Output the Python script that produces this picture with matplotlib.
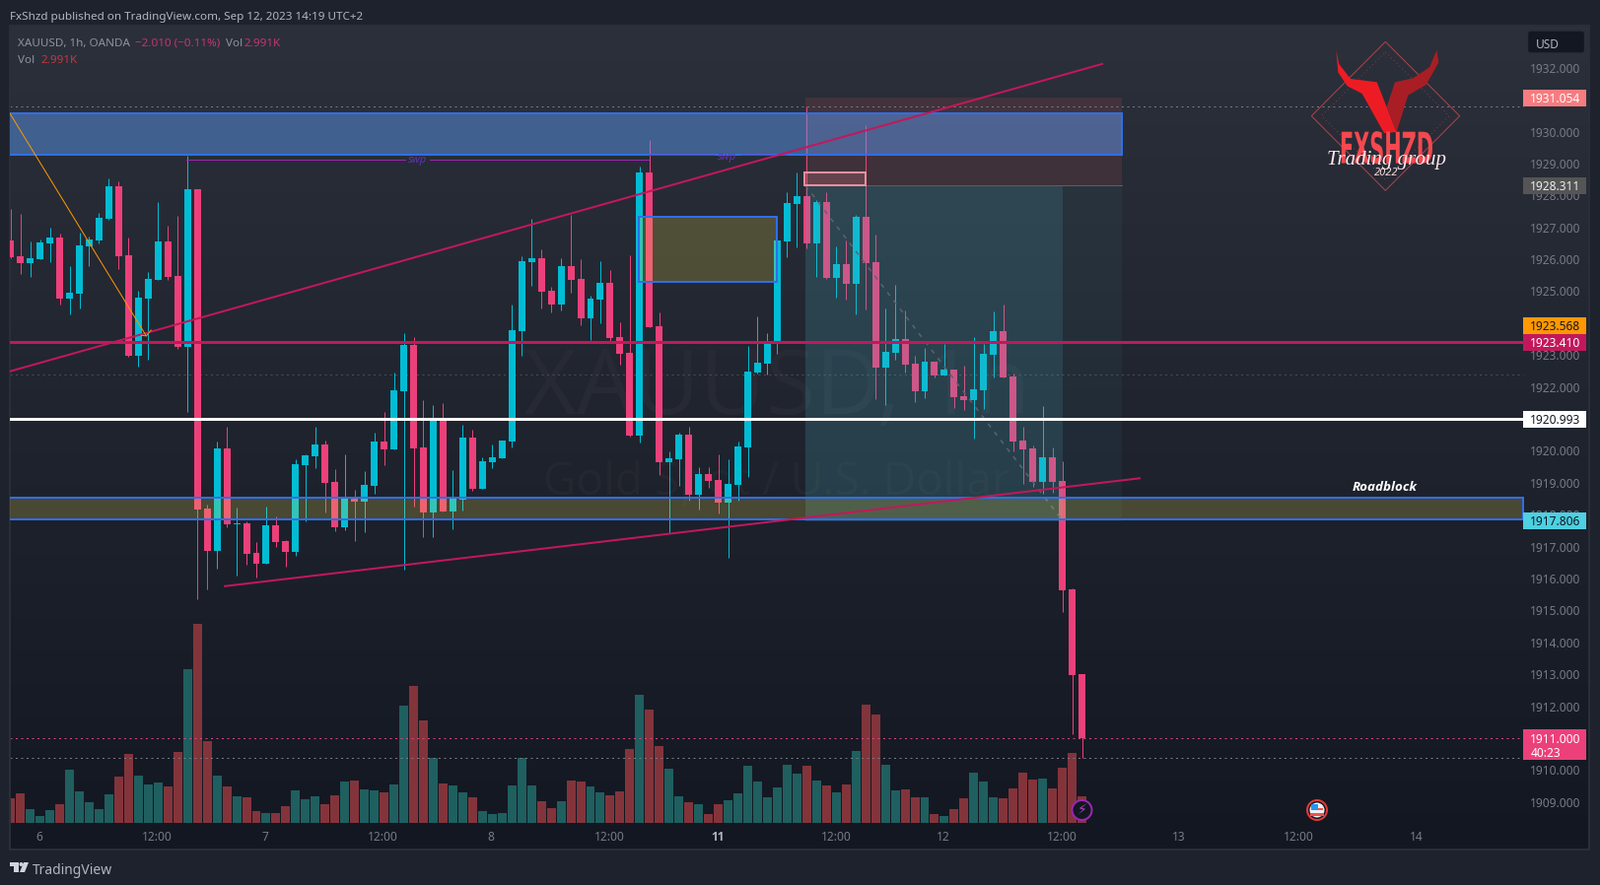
import numpy as np
import matplotlib
matplotlib.use("Agg")
import matplotlib.pyplot as plt
from matplotlib.colors import LinearSegmentedColormap
from matplotlib.patches import Rectangle, Polygon, Circle, FancyBboxPatch
from matplotlib.transforms import Affine2D, blended_transform_factory
from matplotlib.patheffects import AbstractPathEffect

plt.rcParams["font.family"] = ["Noto Sans", "DejaVu Sans"]

opens = [
1926.59,1926.09,1925.88,1926.00,1926.50,1926.68,1924.77,1924.92,1926.40,1926.59,
1927.27,1928.29,1926.12,1922.98,1924.77,1925.35,1926.56,1925.48,1923.25,1928.19,
1918.19,1916.86,1920.08,1917.70,1917.73,1916.80,1916.46,1917.67,1917.17,1916.83,
1919.55,1919.83,1920.20,1919.03,1917.61,1918.52,1918.40,1918.90,1920.29,1920.05,
1921.87,1923.32,1920.11,1918.07,1920.94,1918.10,1918.47,1920.41,1918.81,1919.64,
1919.77,1920.29,1923.75,1925.91,1926.03,1925.01,1924.58,1925.79,1925.38,1924.15,
1924.74,1925.26,1923.56,1923.07,1920.48,1928.72,1923.90,1919.64,1919.74,1920.51,
1918.62,1919.27,1919.09,1918.38,1918.93,1920.11,1922.45,1922.73,1923.35,1926.56,
1927.73,1927.98,1926.50,1927.79,1925.42,1925.85,1925.23,1927.33,1925.91,1922.61,
1923.07,1923.50,1922.73,1921.87,1922.79,1922.36,1922.54,1921.71,1921.59,1921.90,
1923.01,1923.75,1922.33,1920.32,1920.08,1919.02,1919.80,1919.05,1915.66,1913.00]
highs = [
1927.58,1927.42,1926.56,1926.62,1926.99,1926.80,1925.79,1926.83,1926.71,1927.45,
1928.53,1928.44,1926.68,1925.01,1925.60,1927.79,1927.05,1927.36,1929.24,1928.19,
1918.32,1920.29,1920.75,1918.22,1917.79,1917.14,1918.25,1917.95,1917.20,1919.74,
1919.89,1920.75,1920.32,1919.43,1919.89,1918.78,1919.37,1920.57,1921.22,1922.45,
1923.69,1923.56,1921.59,1921.43,1921.49,1919.40,1920.82,1920.66,1919.80,1920.20,
1920.32,1924.58,1926.09,1927.27,1926.31,1925.14,1926.03,1927.39,1926.00,1924.86,
1925.94,1925.66,1924.03,1926.12,1928.90,1929.74,1924.34,1919.98,1920.57,1920.75,
1919.49,1919.49,1919.89,1919.74,1920.29,1923.28,1924.21,1923.69,1926.59,1928.10,
1928.72,1930.79,1927.85,1928.10,1926.40,1926.59,1927.39,1930.20,1926.77,1924.46,
1925.20,1924.40,1922.98,1923.22,1922.79,1923.35,1922.54,1922.67,1923.56,1923.35,
1924.37,1924.58,1922.42,1920.75,1920.17,1921.40,1920.10,1919.67,1915.69,1913.00]
lows = [
1926.03,1925.54,1925.45,1926.00,1925.91,1924.58,1924.27,1924.46,1925.79,1926.50,
1927.24,1925.69,1922.94,1922.64,1922.85,1925.35,1925.35,1923.19,1921.22,1915.35,
1915.66,1916.31,1917.61,1916.09,1916.43,1916.03,1916.46,1916.99,1916.37,1916.71,
1917.79,1919.46,1918.07,1917.48,1917.51,1917.17,1917.45,1918.66,1919.55,1920.05,
1916.28,1918.25,1917.30,1917.30,1918.10,1917.54,1918.13,1918.75,1918.81,1919.46,
1919.77,1920.11,1922.98,1925.17,1924.46,1924.34,1924.40,1924.95,1923.93,1923.47,
1924.00,1923.44,1922.70,1920.45,1920.26,1923.87,1919.24,1917.42,1918.90,1918.44,
1918.16,1918.84,1918.04,1916.65,1918.44,1919.18,1922.42,1922.39,1923.04,1926.06,
1926.37,1926.34,1925.45,1925.38,1924.80,1924.74,1924.27,1924.43,1921.62,1921.43,
1922.85,1922.45,1921.53,1921.65,1922.30,1922.36,1921.34,1921.28,1920.38,1921.31,
1922.30,1922.30,1919.98,1918.96,1918.87,1918.66,1918.69,1914.95,1911.12,1910.38]
closes = [
1926.06,1925.88,1926.03,1926.53,1926.68,1924.77,1924.95,1926.43,1926.62,1927.30,
1928.29,1926.09,1922.98,1924.80,1925.38,1926.56,1925.45,1923.25,1928.19,1918.16,
1916.86,1920.08,1917.70,1917.73,1916.77,1916.46,1917.67,1917.14,1916.83,1919.58,
1919.86,1920.20,1919.00,1917.61,1918.52,1918.40,1918.93,1920.29,1920.05,1921.90,
1923.32,1920.08,1918.07,1920.94,1918.10,1918.50,1920.41,1918.81,1919.67,1919.80,
1920.32,1923.78,1925.94,1926.03,1924.98,1924.58,1925.79,1925.35,1924.15,1924.77,
1925.26,1923.53,1923.04,1920.48,1928.72,1923.87,1919.64,1919.77,1920.51,1918.62,
1919.27,1919.06,1918.38,1918.96,1920.14,1922.48,1922.76,1923.35,1926.59,1927.76,
1927.98,1926.50,1927.79,1925.42,1925.85,1925.23,1927.33,1925.88,1922.61,1923.10,
1923.50,1922.70,1921.87,1922.79,1922.36,1922.54,1921.68,1921.59,1921.93,1923.04,
1923.75,1922.30,1920.29,1920.05,1919.02,1919.80,1919.02,1915.63,1912.97,1911.00]
volumes_k = [
2.77,3.32,1.55,0.78,1.44,2.11,5.98,3.55,2.33,1.55,
3.21,5.21,7.76,5.32,4.32,4.54,4.10,7.98,17.28,22.38,
9.20,5.32,4.10,2.99,2.88,1.33,1.11,1.11,1.88,3.66,
2.66,2.99,2.11,3.10,4.65,4.76,3.77,3.66,3.43,4.32,
13.18,15.40,11.52,7.31,4.43,4.21,3.43,2.88,1.33,1.00,
1.11,4.21,7.31,4.21,2.44,1.66,2.44,4.76,4.65,4.10,
3.43,3.10,3.55,8.31,14.40,12.74,8.64,6.09,2.99,2.33,
2.11,1.00,2.11,2.55,3.32,6.43,4.65,2.88,3.99,6.54,
5.54,6.43,4.76,4.21,3.43,4.32,8.09,13.29,12.19,6.54,
3.66,3.77,2.88,2.88,1.00,0.78,1.55,2.77,5.65,4.65,
2.88,2.77,3.88,5.65,4.87,4.99,3.88,6.20,7.87,2.99]

price_ticks = list(range(1909, 1933))
time_tick_pos = [1.9, 13.94, 24.87, 36.9, 47.87, 59.9, 70.9, 83, 93.9, 106, 117.9, 130, 142]
time_tick_lab = ["6", "12:00", "7", "12:00", "8", "12:00", "11", "12:00", "12", "12:00", "13", "12:00", "14"]

UP, DOWN = "#00bcd4", "#ec407a"
VUP, VDOWN = "#1f5f5f", "#83343b"
PINK = "#c2185b"
BLUE = "#2f6fe8"
W, H = 1623, 898
px = 0.72  # one pixel in points
FS = 8.6

fig = plt.figure(figsize=(W / 100, H / 100), dpi=100, facecolor="#1e222d")
rect = [10 / W, (H - 862) / H, 1602 / W, 836 / H]
ax = fig.add_axes(rect)
ax2 = ax.twinx()
ax.set_zorder(2)
ax2.set_zorder(1)
ax.patch.set_visible(False)

# background gradient and volume
cmap = LinearSegmentedColormap.from_list("bg", ["#131722", "#2c303b"])
ax2.imshow(np.linspace(1, 0, 256).reshape(-1, 1), aspect="auto", cmap=cmap,
           extent=[0, 1, 0, 1], transform=ax2.transAxes, zorder=0)

x = np.arange(len(opens)) - 1
o, h, l, c = map(np.array, (opens, highs, lows, closes))
up = c >= o
ax2.bar(x, volumes_k, width=0.9, color=[VUP if u else VDOWN for u in up], zorder=1)

ax.set_xlim(-1.073, 159.6)
ax.set_ylim(1907.51, 1933.32)
ax2.set_ylim(-2.99, 89.64)
ax2.set_yticks([])
for a in (ax, ax2):
    for s in a.spines.values():
        s.set_color("#2a2e39")
        s.set_linewidth(2 * px)

# watermark
ax.text(77.0, 1921.9, "XAUUSD, 1h", ha="center", va="center", fontsize=66, color="#272a35",
        family="Open Sans", zorder=1)
ax.text(76.9, 1919.0, "Gold Spot / U.S. Dollar", ha="center", va="center", fontsize=33, color="#24272f",
        family="Open Sans", zorder=1)

# candles
ax.vlines(x, l, h, colors=[UP if u else DOWN for u in up], linewidth=1 * px, zorder=3)
ax.bar(x, np.abs(c - o), bottom=np.minimum(o, c), width=0.7,
       color=[UP if u else DOWN for u in up], zorder=3)

# position tool
ax.add_patch(Rectangle((79.87, 1928.311), 32.23, 2.743, fc="#e65a50", alpha=0.13, ec="none", zorder=4))
ax.add_patch(Rectangle((79.87, 1917.806), 32.23, 10.505, fc="#50b9c8", alpha=0.06, ec="none", zorder=4))
ax.add_patch(Rectangle((79.87, 1917.806), 26.13, 10.505, fc="#50b9c8", alpha=0.15, ec="none", zorder=4))
ax.plot([79.87, 112.1], [1928.311, 1928.311], color="#5f5f5a", lw=1 * px, zorder=4)
ax.plot([79.87, 105.9], [1928.311, 1917.86], color="#5f626c", lw=1.5 * px, ls=(0, (3, 4)), zorder=4)
ax.add_patch(Rectangle((79.8, 1928.32), 6.16, 0.40, fc="#f48fa0", alpha=0.2, ec="none", zorder=5))
ax.add_patch(Rectangle((79.8, 1928.32), 6.16, 0.40, fc="none", ec="#f48fa0", lw=2 * px, zorder=5))

# zones
ax.add_patch(Rectangle((-3, 1929.27), 115.1, 1.30, fc="#5fa0fc", alpha=0.45, ec="none", zorder=5))
ax.add_patch(Rectangle((-3, 1929.27), 115.1, 1.30, fc="none", ec=BLUE, lw=2 * px, zorder=5))
ax.add_patch(Rectangle((-3, 1917.86), 155.9, 0.67, fc="#fae84b", alpha=0.2, ec="none", zorder=5))
ax.add_patch(Rectangle((-3, 1917.86), 155.9, 0.67, fc="none", ec=BLUE, lw=2 * px, zorder=5))
ax.add_patch(Rectangle((62.9, 1925.29), 14.1, 2.04, fc="#fae84b", alpha=0.2, ec="none", zorder=5))
ax.add_patch(Rectangle((62.9, 1925.29), 14.1, 2.04, fc="none", ec=BLUE, lw=2 * px, zorder=5))

# lines
ax.plot([-1.07, 110.06], [1922.49, 1932.12], color=PINK, lw=2 * px, zorder=6)
ax.plot([20.8, 113.87], [1915.76, 1919.14], color=PINK, lw=2 * px, zorder=6)
ax.plot([-1.07, 12.8], [1930.57, 1923.60], color="#ff9800", lw=1 * px, zorder=6)
ax.plot([12.3, 12.8, 13.3], [1923.62, 1923.60, 1923.78], color="#ff9800", lw=1 * px, zorder=6)
ax.hlines(1923.40, -3, 152.9, color=PINK, lw=3 * px, zorder=6)
ax.hlines(1920.993, -3, 152.9, color="#ffffff", lw=3 * px, zorder=6)
for price, col in [(1930.78, "#787b86"), (1922.38, "#4a4d56"), (1911.0, "#d8477f"), (1910.38, "#787b86")]:
    ax.plot([-1.07, 152.9], [price, price], color=col, lw=1 * px, ls=(0, (2, 3.5)), zorder=2.5)
ax.plot([16.9, 39.1], [1929.11, 1929.11], color="#9c27b0", lw=1 * px, zorder=6)
ax.plot([41.7, 63.9], [1929.11, 1929.11], color="#9c27b0", lw=1 * px, zorder=6)
ax.plot([63.9, 70.6], [1929.27, 1929.27], color="#9c27b0", lw=1 * px, zorder=6)
ax.plot([73.2, 78.0], [1929.27, 1929.27], color="#9c27b0", lw=1 * px, zorder=6)
ax.text(40.4, 1929.10, "swp", color="#5e35b1", style="italic", fontsize=8, ha="center", va="center", zorder=6)
ax.text(71.9, 1929.20, "swp", color="#5e35b1", style="italic", fontsize=8, ha="center", va="center", zorder=6)
ax.text(138.85, 1918.87, "Roadblock", color="#ffffff", style="italic", weight="bold", fontsize=9.6,
        family="Open Sans", ha="center", va="center", zorder=6)

# axes ticks
ax.set_axisbelow(True)
ax.yaxis.tick_right()
ax.set_yticks(price_ticks)
ax.set_yticklabels([f"{v:.3f}" for v in price_ticks])
ax.tick_params(axis="y", length=0, pad=-9 * px, labelcolor="#787b86", labelsize=FS)
for t in ax.yaxis.get_major_ticks():
    t.label2.set_ha("right")
ax.set_xticks(time_tick_pos)
ax.set_xticklabels(time_tick_lab)
ax.tick_params(axis="x", length=0, pad=-19 * px, labelcolor="#787b86", labelsize=FS)
lab11 = ax.get_xticklabels()[time_tick_lab.index("11")]
lab11.set_family("Open Sans")
lab11.set_fontweight("bold")
lab11.set_color("#b2b5be")

# price labels
ytrans = blended_transform_factory(ax.transAxes, ax.transData)
x0, x1 = (1545 - 10) / 1602, (1609 - 10) / 1602
xt = (1603 - 10) / 1602
for center, text, bgc, txt in [
    (1931.06, "1931.054", "#f77c80", "#ffffff"),
    (1928.31, "1928.311", "#555555", "#eeeeee"),
    (1923.92, "1923.568", "#ff9800", "#131722"),
    (1923.40, "1923.410", PINK, "#ffffff"),
    (1920.99, "1920.993", "#ffffff", "#131722"),
    (1917.81, "1917.806", "#4dd0e1", "#131722"),
]:
    ax.add_patch(Rectangle((x0, center - 0.262), x1 - x0, 0.524, transform=ytrans, fc=bgc, ec="none", zorder=7))
    ax.text(xt, center, text, transform=ytrans, color=txt, fontsize=FS, ha="right", va="center_baseline", zorder=8)
ax.add_patch(Rectangle((x0, 1910.33), x1 - x0, 0.95, transform=ytrans, fc=DOWN, ec="none", zorder=7))
ax.text(xt, 1911.0, "1911.000", transform=ytrans, color="#ffffff", fontsize=FS, ha="right", va="center_baseline", zorder=8)
ax.text((1553 - 10) / 1602, 1910.57, "40:23", transform=ytrans, color="#ffffff", fontsize=FS, ha="left", va="center_baseline", zorder=8)

# figure-level decoration in pixel coordinates
PX = Affine2D().scale(1, -1).translate(0, H)


def ftext(xp, yp, s, **kw):
    kw.setdefault("va", "center_baseline")
    kw.setdefault("fontsize", 8.4)
    return fig.text(xp, yp, s, transform=PX, zorder=20, **kw)


def fpatch(p):
    p.set_transform(PX)
    p.set_zorder(20)
    fig.add_artist(p)
    return p


def z9(pts):
    return [(1300 + a / 3, b / 3) for a, b in pts]


ftext(10, 16, "FxShzd published on TradingView.com, Sep 12, 2023 14:19 UTC+2", color="#b2b5be")
ftext(18, 43, "XAUUSD, 1h, OANDA", color="#8f929b")
ftext(137, 43, "\u22122.010 (\u22120.11%)", color="#c2366f")
ftext(229, 43, "Vol", color="#8f929b")
ftext(247, 43, "2.991K", color="#c2366f")
ftext(18, 60, "Vol", color="#8f929b")
ftext(41, 60, "2.991K", color="#c0393f")
ftext(33, 881.5, "TradingView", color="#b2b5be", fontsize=10)
fpatch(Polygon([(10, 875), (19, 875), (19, 885), (14, 885), (14, 879), (10, 879)], fc="#d1d4dc", ec="none"))
fpatch(Circle((21.5, 877), 2, fc="#d1d4dc", ec="none"))
fpatch(Polygon([(24, 875), (29, 875), (25, 885), (20, 885)], fc="#d1d4dc", ec="none"))

fpatch(FancyBboxPatch((1549.5, 31), 58, 23, boxstyle="round,pad=0,rounding_size=3", fc="#131722", ec="#2a2e39", lw=1.5 * px))
ftext(1558, 44, "USD", color="#b2b5be", fontsize=FS)

# logo
fpatch(Polygon(z9([(316, 127), (542, 353), (316, 580), (91, 353)]), closed=True, fc="none", ec="#a8454c", lw=1 * px))
fpatch(Polygon(z9([(316, 158), (510, 353), (316, 548), (122, 353)]), closed=True, fc="none", ec="#7d3c44", lw=1 * px, ls=(0, (1, 3))))
fpatch(Polygon(z9([(166, 152), (175, 195), (210, 240), (290, 250), (350, 402), (312, 405), (245, 285),
                   (200, 262), (172, 220)]), closed=True, fc="#ed1c24", ec="none"))
fpatch(Polygon(z9([(472, 153), (478, 190), (440, 258), (385, 290), (350, 402), (320, 325), (345, 250),
                   (400, 238), (450, 205)]), closed=True, fc="#a81e24", ec="none"))


class StretchY(AbstractPathEffect):
    def __init__(self, sy, y0):
        super().__init__()
        self.sy, self.y0 = sy, y0

    def draw_path(self, renderer, gc, tpath, affine, rgbFace=None):
        t = affine + Affine2D().translate(0, -self.y0).scale(1, self.sy).translate(0, self.y0)
        renderer.draw_path(gc, tpath, t, rgbFace)


ftext(1406.5, 153, "FXSHZD", color="#f5484f", fontsize=15, weight="bold", family="Liberation Sans Narrow",
      ha="center", va="center", path_effects=[StretchY(2.1, H - 153)])
ftext(1406, 163, "Trading group", color="#ffe9e9", fontsize=15, style="italic", family="Liberation Serif",
      ha="center", va="center")
ftext(1406.5, 175, "2022", color="#f4dede", fontsize=8, style="italic", ha="center", va="center")

# event markers
fpatch(Circle((1336, 822), 10, fc="#131722", ec="#e53935", lw=2 * px))
fpatch(Circle((1336, 822), 7.5, fc="#f0f0f0", ec="none"))
fpatch(Rectangle((1329, 825), 14, 2.5, fc="#ef5350", ec="none"))
fpatch(Rectangle((1330, 819.5), 12, 2, fc="#ef5350", ec="none"))
fpatch(Rectangle((1330, 816), 6.5, 6, fc="#2196f3", ec="none"))
fpatch(Circle((1097.5, 822), 10, fc="#131722", ec="#9c27b0", lw=2 * px))
ftext(1097.5, 822, "\u26a1", color="#ab47bc", fontsize=10, family="DejaVu Sans", ha="center", va="center")

fig.savefig("out.png", dpi=100, facecolor=fig.get_facecolor())
